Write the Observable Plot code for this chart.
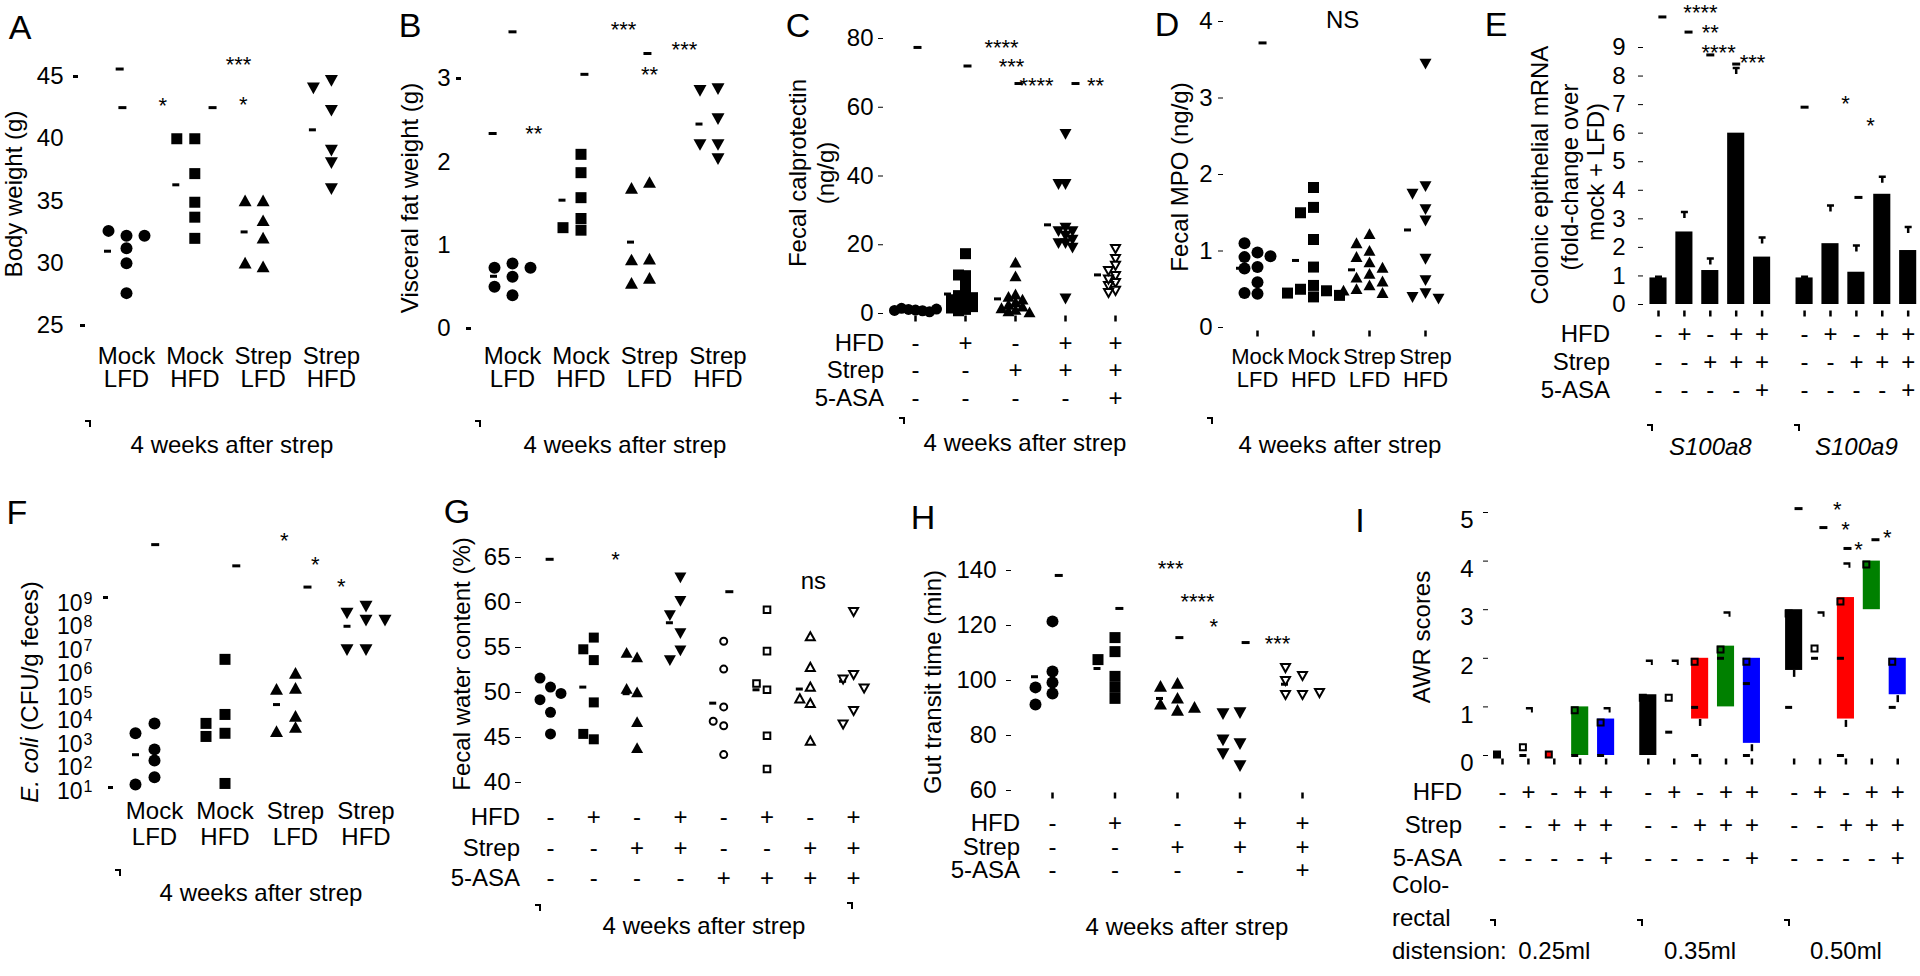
<!DOCTYPE html>
<html><head><meta charset="utf-8">
<script src="https://cdn.jsdelivr.net/npm/d3@7"></script>
<script src="https://cdn.jsdelivr.net/npm/@observablehq/plot@0.6"></script>
<style>
html,body{margin:0;padding:0;background:#fff;}
#fig{position:relative;width:1920px;height:976px;overflow:hidden;font-family:"Liberation Sans",Arial,Helvetica,sans-serif;color:#000;background:#fff;}
#fig svg{position:absolute;left:0;top:0;}
.lab{position:absolute;white-space:nowrap;line-height:1;}
.corner{position:absolute;width:4px;height:5px;border-top:2.5px solid #000;border-right:2.5px solid #000;}
</style></head><body><div id="fig"></div><script>
// ================= DATA =================
const dotCatTop = ["Mock", "Mock", "Strep", "Strep"];
const dotCatBottom = ["LFD", "HFD", "LFD", "HFD"];

// A – body weight (g)
const bodyWeight = [
  [32.2, 32.6, 32.2, 31.2, 30.0, 27.6],
  [40.0, 40.0, 37.2, 34.9, 33.7, 32.0],
  [35.0, 35.0, 33.4, 32.0, 29.7, 30.0],
  [44.7, 44.1, 42.3, 39.1, 38.1, 36.0]
];
const bodyTicks = [25, 30, 35, 40, 45];
const bodySigBars = [[-0.1, 45.6], [-0.06, 42.5], [1.26, 42.5]];
const bodySigStars = [[0.53, 43.1, "*"], [1.64, 46.4, "***"], [1.71, 43.2, "*"]];

// B – visceral fat weight (g)
const fatWeight = [
  [0.78, 0.73, 0.73, 0.62, 0.50, 0.40],
  [1.32, 1.18, 1.21, 1.57, 1.87, 2.09],
  [1.75, 1.68, 0.83, 0.82, 0.60, 0.54],
  [2.52, 2.88, 2.86, 2.21, 2.21, 2.04]
];
const fatTicks = [0, 1, 2, 3];
const fatSigBars = [[0, 3.56], [-0.29, 2.34], [1.05, 3.05], [1.97, 3.30]];
const fatSigStars = [[0.31, 2.41, "**"], [1.62, 3.66, "***"], [2.0, 3.11, "**"], [2.51, 3.42, "***"]];

// treatment rows (5 conditions)
const hfd5 = ["-", "+", "-", "+", "+"];
const strep5 = ["-", "-", "+", "+", "+"];
const asa5 = ["-", "-", "-", "-", "+"];
const rowNames3 = ["HFD", "Strep", "5-ASA"];

// C – fecal calprotectin (ng/g)
const calprotectin = [
  [1.0, 1.2, 0.8, 1.5, 0.5, 0.9, 1.3],
  [17.4, 11.0, 11.2, 8.1, 5.8, 5.2, 4.6, 3.6, 2.8, 2.0, 1.2, 0.8, 4.0, 1.6],
  [14.8, 10.8, 5.5, 4.8, 4.0, 3.2, 2.5, 2.0, 1.5, 1.0, 0.6, 0.3],
  [52.3, 37.7, 37.7, 25.0, 24.0, 24.0, 22.7, 20.5, 20.5, 19.2, 21.5, 4.4],
  [18.9, 16.0, 14.0, 11.0, 9.0, 6.7, 8.1, 6.1, 10.0, 12.5]
];
const calTicks = [0, 20, 40, 60, 80];
const calSigBars = [[0.04, 77.4], [1.04, 72.0], [2.06, 66.9], [3.2, 66.9]];
const calSigStars = [[1.72, 78.9, "****"], [1.92, 73.5, "***"], [2.42, 68.0, "****"], [3.6, 68.0, "**"]];

// D – fecal MPO (ng/g)
const mpo = [
  [0.98, 1.10, 0.92, 0.93, 0.79, 0.77, 0.59, 0.44, 0.45],
  [1.83, 1.57, 1.50, 1.15, 0.79, 0.55, 0.50, 0.48, 0.45, 0.42, 0.40],
  [1.22, 1.10, 1.00, 0.92, 0.85, 0.78, 0.70, 0.65, 0.60, 0.55, 0.50, 0.48, 0.45],
  [3.45, 1.85, 1.75, 1.55, 1.40, 0.90, 0.62, 0.45, 0.40, 0.38]
];
const mpoTicks = [0, 1, 2, 3, 4];
const mpoSigBars = [[0.09, 3.72]];
const mpoSigText = [[1.52, 4.01, "NS"]];

// E – colonic epithelial mRNA (fold change)
const s100Genes = ["S100a8", "S100a9"];
const s100Mean = [[0.93, 2.54, 1.19, 6.0, 1.66], [0.93, 2.13, 1.13, 3.86, 1.89]];
const s100Upper = [[0.97, 3.24, 1.61, 8.28, 2.35], [0.97, 3.47, 2.07, 4.47, 2.71]];
const s100Ticks = [0, 1, 2, 3, 4, 5, 6, 7, 8, 9];
const s100SigBars = [[0.15, 10.07], [1.16, 9.54], [2.0, 8.74], [3.0, 8.42], [5.64, 6.91], [7.72, 3.75]];
const s100SigStars = [[1.62, 10.42, "****"], [2.0, 9.72, "**"], [2.32, 9.02, "****"], [3.63, 8.67, "***"], [7.22, 7.23, "*"], [8.19, 6.46, "*"]];

// F – E. coli (CFU/g feces)
const ecoli = [
  [7.9e3, 3.0e3, 6.2e2, 2.1e2, 40, 20],
  [4.2e6, 1.9e4, 7.9e3, 3.0e3, 2.2e3, 22],
  [1.05e6, 2.4e5, 2.2e5, 1.55e4, 5.2e3, 3.5e3],
  [7.9e8, 4.0e8, 2.0e8, 2.0e8, 1.1e7, 1.1e7]
];
const ecoliTicks = [1e1, 1e2, 1e3, 1e4, 1e5, 1e6, 1e7, 1e8, 1e9];
const ecoliSigBars = [[0.01, 3.2e11], [1.16, 4.0e10], [2.17, 5.0e9]];
const ecoliSigStars = [[1.84, 7.9e11, "*"], [2.28, 7.9e10, "*"], [2.65, 9.5e9, "*"]];

// G – fecal water content (%)
const hfd8 = ["-", "+", "-", "+", "-", "+", "-", "+"];
const strep8 = ["-", "-", "+", "+", "-", "-", "+", "+"];
const asa8 = ["-", "-", "-", "-", "+", "+", "+", "+"];
const water = [
  [47.8, 45.4, 50.6, 49.2, 51.6, 49.9],
  [56.1, 54.8, 53.6, 48.9, 44.8, 45.4],
  [46.7, 43.8, 53.9, 50.0, 54.4, 50.4],
  [62.8, 60.2, 58.6, 56.6, 54.7, 53.6],
  [55.7, 52.6, 48.4, 46.3, 46.8, 43.1],
  [59.2, 54.6, 50.3, 51.0, 45.2, 41.5],
  [56.2, 52.8, 50.6, 48.8, 49.3, 44.6],
  [59.0, 52.0, 51.5, 50.5, 48.0, 46.5]
];
const waterTicks = [40, 45, 50, 55, 60, 65];
const waterSigBars = [[-0.02, 64.8], [4.13, 61.2]];
const waterSigStars = [[1.5, 65.4, "*"]];
const waterSigText = [[6.07, 62.4, "ns"]];

// H – gut transit time (min)
const transit = [
  [121.5, 103.3, 99.3, 97.5, 95.3, 91.3],
  [115.6, 110.5, 107.6, 101.5, 97.5, 93.5],
  [98.9, 97.8, 93.5, 91.3, 89.1, 90.2],
  [88.4, 88.0, 77.1, 78.5, 73.5, 69.1],
  [101.8, 94.9, 94.9, 104.7, 100.0, 95.6]
];
const transitTicks = [60, 80, 100, 120, 140];
const transitSigBars = [[0.1, 138.2], [1.07, 126.2], [2.03, 115.6], [3.09, 113.8]];
const transitSigStars = [[1.89, 142.9, "***"], [2.32, 130.9, "****"], [2.58, 121.8, "*"], [3.6, 115.3, "***"]];

// I – AWR scores by colorectal distension volume
const awrVolumes = ["0.25ml", "0.35ml", "0.50ml"];
const awrBarLow  = [[null, null, null, 0, 0], [0, null, 0.75, 1.0, 0.25], [1.75, null, 0.75, 3.0, 1.25]];
const awrBarHigh = [[null, null, null, 1.0, 0.75], [1.25, null, 2.0, 2.25, 2.0], [3.0, null, 3.25, 4.0, 2.0]];
const awrSquare  = [[0.02, 0.17, 0.02, 0.93, 0.68], [1.19, 1.19, 1.93, 2.18, 1.93], [2.92, 2.2, 3.17, 3.93, 1.93]];
const awrDash = [[[], [0], [], [0], [0]], [[], [0.48], [0.99, 0], [2.0], [1.48, 0]], [[0.99], [2.0], [2.0, 0], [], [0.99]]];
const awrCap = [[null, 0.97, null, null, 0.97], [1.95, 1.95, null, 2.94, null], [null, 2.94, 3.95, null, null]];
const awrLowTick = [[null, null, null, null, null], [null, null, 0.68, null, 0.16], [1.69, null, 0.66, null, 1.17]];
const awrTicks = [0, 1, 2, 3, 4, 5];
const awrSigBars = [[11.43, 5.08], [12.39, 4.69], [13.32, 4.26], [14.40, 4.44]];
const awrSigStars = [[12.93, 5.18, "*"], [13.24, 4.77, "*"], [13.75, 4.36, "*"], [14.86, 4.59, "*"]];

// ================= DRAWING =================
const W = 1920, H = 976;
const FONT = '"Liberation Sans", Arial, Helvetica, sans-serif';
const fig = document.getElementById("fig");
const intFmt = d => String(d);

const SYM = {
  circle: r => ({draw(c) { c.moveTo(r, 0); c.arc(0, 0, r, 0, 2 * Math.PI); c.closePath(); }}),
  square: h => ({draw(c) { c.rect(-h, -h, 2 * h, 2 * h); }}),
  triUp: h => ({draw(c) { c.moveTo(0, -h); c.lineTo(h, 0.8 * h); c.lineTo(-h, 0.8 * h); c.closePath(); }}),
  triDown: h => ({draw(c) { c.moveTo(0, h); c.lineTo(h, -0.8 * h); c.lineTo(-h, -0.8 * h); c.closePath(); }}),
  bar: (w, h) => ({draw(c) { c.rect(-w / 2, -h / 2, w, h); }}),
  cap: () => ({draw(c) { c.rect(-3.5, -1.25, 7, 2.5); c.rect(1.5, -1.25, 2, 5.5); }}),
  tee: () => ({draw(c) { c.rect(-3.5, -1.25, 7, 2.5); c.rect(-1.25, 0, 2.5, 6); }})
};
const filled = sym => ({sym, open: false});
const open = sym => ({sym, open: true});

function layer({fl, fr, ft, fb, c0, s, ydom, ylog = false, marks}) {
  const svg = Plot.plot({
    width: W, height: H,
    marginLeft: fl, marginRight: W - fr, marginTop: ft, marginBottom: H - fb,
    x: {domain: [(fl - c0) / s, (fr - c0) / s], axis: null, label: null},
    y: {type: ylog ? "log" : "linear", domain: ydom, axis: null, label: null},
    style: {background: "transparent", overflow: "visible", fontFamily: FONT, fontSize: "24px", color: "#000"},
    marks
  });
  fig.appendChild(svg);
}

function swarm(vals, ySc, center, colUnits, minDist) {
  const placed = [];
  return vals.map(v => {
    const py = ySc(v);
    let col = 0;
    for (let k = 0; k < 60; k++) {
      col = k === 0 ? 0 : (k % 2 ? -(k + 1) / 2 : k / 2);
      if (!placed.some(p => p.col === col && Math.abs(p.py - py) < minDist)) break;
    }
    placed.push({col, py});
    return {x: center + col * colUnits, v};
  });
}

function dotMarks(P, groups, shapes, colPx, minDist, meanDx, geo = false) {
  const ySc = (P.ylog ? d3.scaleLog() : d3.scaleLinear()).domain(P.ydom).range([P.fb, P.ft]);
  const means = groups.map((vals, i) => ({x: i, y: geo ? Math.pow(10, d3.mean(vals, v => Math.log10(v))) : d3.mean(vals)}));
  const marks = [Plot.dot(means, {x: "x", y: "y", symbol: SYM.bar(7, 3), fill: "black", stroke: "none", dx: meanDx})];
  groups.forEach((vals, i) => {
    const pts = swarm(vals, ySc, i, colPx / P.s, minDist);
    const sh = shapes[i];
    marks.push(Plot.dot(pts, {x: "x", y: "v", symbol: sh.sym,
      fill: sh.open ? "white" : "black", stroke: sh.open ? "black" : "none", strokeWidth: sh.open ? 2 : 0}));
  });
  return marks;
}

function rowMarks(rows, positions, dys, fontSize = 24, extra = {}) {
  return rows.map((row, r) => Plot.text(row.map((t, i) => ({t, x: positions[i]})),
    {x: "x", text: "t", frameAnchor: "bottom", dy: dys[r], lineAnchor: "middle", fontSize, ...extra}));
}

function sigMarks(bars, stars, texts = []) {
  return [
    Plot.dot(bars, {x: d => d[0], y: d => d[1], symbol: SYM.bar(8, 3), fill: "black", stroke: "none"}),
    Plot.text(stars, {x: d => d[0], y: d => d[1], text: d => d[2], fontSize: 22, lineAnchor: "middle", dy: 6}),
    Plot.text(texts, {x: d => d[0], y: d => d[1], text: d => d[2], fontSize: 24, lineAnchor: "middle"})
  ];
}

function vticks(positions, yv, dy) {
  return Plot.dot(positions, {x: d => d, y: yv, symbol: SYM.bar(2.5, 6), fill: "black", stroke: "none", dy});
}

function label(html, x, y, {size = 24, align = "center", rotate = 0} = {}) {
  const d = document.createElement("div");
  d.className = "lab";
  d.innerHTML = html;
  const tx = align === "center" ? "-50%" : align === "right" ? "-100%" : "0";
  d.style.left = x + "px"; d.style.top = y + "px"; d.style.fontSize = size + "px";
  d.style.transform = `translate(${tx},-50%)` + (rotate ? ` rotate(${rotate}deg)` : "");
  fig.appendChild(d);
}
function corner(x, y) {
  const d = document.createElement("div");
  d.className = "corner"; d.style.left = (x - 3) + "px"; d.style.top = (y - 3) + "px";
  fig.appendChild(d);
}

const idx4 = [0, 1, 2, 3], idx5 = [0, 1, 2, 3, 4], idx8 = [0, 1, 2, 3, 4, 5, 6, 7];
const stdShapes = [filled(SYM.circle(6)), filled(SYM.square(5.5)), filled(SYM.triUp(6.5)), filled(SYM.triDown(6.5))];

// ---- Panel A ----
{
  const P = {fl: 80, fr: 370, ft: 76, fb: 325, c0: 126, s: 68.3, ydom: [25, 45]};
  const x0 = (P.fl - P.c0) / P.s;
  layer({...P, marks: [
    Plot.axisY({ticks: bodyTicks, tickSize: 0, tickPadding: 17, fontSize: 24, label: null, tickFormat: intFmt}),
    Plot.dot([45], {x: x0, y: d => d, symbol: SYM.bar(5, 3), fill: "black", dx: -5}),
    Plot.dot([25], {x: x0, y: d => d, symbol: SYM.bar(5, 3), fill: "black", dx: 2}),
    ...dotMarks(P, bodyWeight, stdShapes, 18, 11, -19),
    ...sigMarks(bodySigBars, bodySigStars),
    ...rowMarks([dotCatTop, dotCatBottom], idx4, [31, 54])
  ]});
}
// ---- Panel B ----
{
  const P = {fl: 470, fr: 760, ft: 78, fb: 328, c0: 512, s: 68.5, ydom: [0, 3]};
  const x0 = (P.fl - P.c0) / P.s;
  layer({...P, marks: [
    Plot.axisY({ticks: fatTicks, tickSize: 0, tickPadding: 20, fontSize: 24, label: null, tickFormat: intFmt}),
    Plot.dot([3], {x: x0, y: d => d, symbol: SYM.bar(5, 3), fill: "black", dx: -12}),
    Plot.dot([0], {x: x0, y: d => d, symbol: SYM.bar(5, 3), fill: "black", dx: -2}),
    ...dotMarks(P, fatWeight, stdShapes, 18, 11, -19),
    ...sigMarks(fatSigBars, fatSigStars),
    ...rowMarks([dotCatTop, dotCatBottom], idx4, [28, 51])
  ]});
}
// ---- Panel C ----
{
  const P = {fl: 883, fr: 1145, ft: 38, fb: 313, c0: 915, s: 50, ydom: [0, 80]};
  const shapes = [filled(SYM.circle(5.5)), filled(SYM.square(5.5)), filled(SYM.triUp(6)), filled(SYM.triDown(6)), open(SYM.triDown(4.5))];
  layer({...P, marks: [
    Plot.axisY({ticks: calTicks, tickSize: 5, tickPadding: 5, fontSize: 24, label: null, tickFormat: intFmt}),
    vticks(idx5, 0, 5),
    ...dotMarks(P, calprotectin, shapes, 7, 6, -18),
    ...sigMarks(calSigBars, calSigStars),
    ...rowMarks([hfd5, strep5, asa5], idx5, [30, 57, 85])
  ]});
}
// ---- Panel D ----
{
  const P = {fl: 1223, fr: 1460, ft: 21, fb: 327, c0: 1257, s: 56, ydom: [0, 4]};
  const shapes = [filled(SYM.circle(6)), filled(SYM.square(5.5)), filled(SYM.triUp(6)), filled(SYM.triDown(6))];
  layer({...P, marks: [
    Plot.axisY({ticks: mpoTicks, tickSize: 5, tickPadding: 6, fontSize: 24, label: null, tickFormat: intFmt}),
    vticks(idx4, 0, 6),
    ...dotMarks(P, mpo, shapes, 13, 11, -18),
    ...sigMarks(mpoSigBars, [], mpoSigText),
    ...rowMarks([dotCatTop, dotCatBottom], idx4, [29, 52], 22)
  ]});
}
// ---- Panel E ----
{
  const P = {fl: 1643, fr: 1920, ft: 47, fb: 304, c0: 1658, s: 25.9, ydom: [0, 9]};
  const pos = (g, j) => g * 5.64 + j;
  const bars = s100Mean.flatMap((arr, g) => arr.map((v, j) => ({x: pos(g, j), v, cap: s100Upper[g][j]})));
  const positions = bars.map(d => d.x);
  layer({...P, marks: [
    Plot.axisY({ticks: s100Ticks, tickSize: 5, tickPadding: 13, fontSize: 24, label: null, tickFormat: intFmt}),
    Plot.dot(bars, {x: "x", y: "cap", symbol: SYM.tee(), fill: "black", stroke: "none"}),
    Plot.rect(bars, {x1: d => d.x - 0.33, x2: d => d.x + 0.33, y1: 0, y2: "v", fill: "black"}),
    vticks(positions, 0, 9),
    ...sigMarks(s100SigBars, s100SigStars),
    ...rowMarks([hfd5.concat(hfd5), strep5.concat(strep5), asa5.concat(asa5)], positions, [30, 58, 86]),
    Plot.text(s100Genes.map((t, g) => ({t, x: pos(g, 2)})), {x: "x", text: "t", frameAnchor: "bottom", dy: 143, lineAnchor: "middle", fontSize: 24, fontStyle: "italic"})
  ]});
}
// ---- Panel F ----
{
  const P = {fl: 112, fr: 420, ft: 603, fb: 791, c0: 154, s: 70.5, ydom: [1e1, 1e9], ylog: true};
  const x0 = (P.fl - P.c0) / P.s;
  layer({...P, marks: [
    Plot.text(ecoliTicks, {x: x0, y: d => d, text: () => "10", textAnchor: "end", dx: -30, fontSize: 23, lineAnchor: "middle"}),
    Plot.text(ecoliTicks, {x: x0, y: d => d, text: d => String(Math.round(Math.log10(d))), textAnchor: "start", dx: -29, dy: -5, fontSize: 16, lineAnchor: "middle"}),
    Plot.dot([1e9], {x: x0, y: d => d, symbol: SYM.bar(5, 3), fill: "black", dx: -7, dy: -6}),
    Plot.dot([1e1], {x: x0, y: d => d, symbol: SYM.bar(5, 3), fill: "black", dx: -2, dy: -4}),
    ...dotMarks(P, ecoli, stdShapes, 19, 11, -19, true),
    ...sigMarks(ecoliSigBars, ecoliSigStars),
    ...rowMarks([dotCatTop, dotCatBottom], idx4, [20, 46])
  ]});
}
// ---- Panel G ----
{
  const P = {fl: 521, fr: 900, ft: 557, fb: 782, c0: 550, s: 43.3, ydom: [40, 65]};
  const shapes = [filled(SYM.circle(5.5)), filled(SYM.square(5)), filled(SYM.triUp(6)), filled(SYM.triDown(6)),
    open(SYM.circle(3.5)), open(SYM.square(3.3)), open(SYM.triUp(4.5)), open(SYM.triDown(4.5))];
  layer({...P, marks: [
    Plot.axisY({ticks: waterTicks, tickSize: 6, tickPadding: 5, fontSize: 24, label: null, tickFormat: intFmt}),
    ...dotMarks(P, water, shapes, 10.5, 15, -11),
    ...sigMarks(waterSigBars, waterSigStars, waterSigText),
    ...rowMarks([hfd8, strep8, asa8], idx8, [35, 66, 96])
  ]});
}
// ---- Panel H ----
{
  const P = {fl: 1011, fr: 1345, ft: 570, fb: 790, c0: 1052, s: 62.5, ydom: [60, 140]};
  const shapes = [filled(SYM.circle(6)), filled(SYM.square(5.5)), filled(SYM.triUp(6.5)), filled(SYM.triDown(6.5)), open(SYM.triDown(4.5))];
  layer({...P, marks: [
    Plot.axisY({ticks: transitTicks, tickSize: 5, tickPadding: 10, fontSize: 24, label: null, tickFormat: intFmt}),
    vticks(idx5, 60, 5),
    ...dotMarks(P, transit, shapes, 17, 11, -18),
    ...sigMarks(transitSigBars, transitSigStars),
    ...rowMarks([hfd5, strep5, asa5], idx5, [33, 57, 80])
  ]});
}
// ---- Panel I ----
{
  const P = {fl: 1488, fr: 1920, ft: 512, fb: 755, c0: 1502, s: 25.9, ydom: [0, 5]};
  const pos = (g, j) => g * 5.63 + j;
  const condFill = ["#000000", "white", "#ff0000", "#008000", "#0000ff"];
  const positions = [], marks = [
    Plot.axisY({ticks: awrTicks, tickSize: 0, tickPadding: 15, fontSize: 24, label: null, dy: 8, tickFormat: intFmt}),
    Plot.axisY({ticks: awrTicks, tickSize: 5, tickFormat: () => "", label: null})
  ];
  const sq = [], dashes = [], caps = [], lows = [];
  awrVolumes.forEach((vol, g) => {
    for (let j = 0; j < 5; j++) {
      const x = pos(g, j);
      positions.push(x);
      if (awrBarLow[g][j] != null) {
        marks.push(Plot.rect([{x, lo: awrBarLow[g][j], hi: awrBarHigh[g][j]}],
          {x1: d => d.x - 0.33, x2: d => d.x + 0.33, y1: "lo", y2: "hi", fill: condFill[j]}));
      }
      sq.push({x, y: awrSquare[g][j], f: condFill[j]});
      awrDash[g][j].forEach(y => dashes.push({x, y}));
      if (awrCap[g][j] != null) caps.push({x, y: awrCap[g][j]});
      if (awrLowTick[g][j] != null) lows.push({x, y: awrLowTick[g][j]});
    }
  });
  marks.push(
    Plot.dot(lows, {x: "x", y: "y", symbol: SYM.bar(2.5, 7), fill: "black", stroke: "none"}),
    Plot.dot(caps, {x: "x", y: "y", symbol: SYM.cap(), fill: "black", stroke: "none", dx: 1}),
    Plot.dot(dashes, {x: "x", y: "y", symbol: SYM.bar(7, 3), fill: "black", stroke: "none", dx: -5.5}),
    ...condFill.map(f => Plot.dot(sq.filter(d => d.f === f), {x: "x", y: "y", symbol: SYM.square(3), fill: f, stroke: "black", strokeWidth: 2, dx: -5.5})),
    vticks(positions, 0, 6),
    ...sigMarks(awrSigBars, awrSigStars)
  );
  const hfd = [], strep = [], asa = [];
  awrVolumes.forEach(() => { hfd.push(...hfd5); strep.push(...strep5); asa.push(...asa5); });
  marks.push(...rowMarks([hfd, strep, asa], positions, [37, 70, 103]));
  marks.push(Plot.text(awrVolumes.map((t, g) => ({t, x: pos(g, 2)})), {x: "x", text: "t", frameAnchor: "bottom", dy: 196, lineAnchor: "middle", fontSize: 24}));
  layer({...P, marks});
}

// ---------------- HTML labels ----------------
const letterSize = 34;
[["A", 20, 27], ["B", 410, 25], ["C", 798, 25], ["D", 1167, 24], ["E", 1496, 24],
 ["F", 17, 512], ["G", 457, 511], ["H", 923, 517], ["I", 1360, 520]].forEach(([t, x, y]) => label(t, x, y, {size: letterSize}));

label("Body weight (g)", 14, 194, {rotate: -90});
label("Visceral fat weight (g)", 410, 198, {rotate: -90});
label("Fecal calprotectin", 798, 173, {rotate: -90});
label("(ng/g)", 826, 173, {rotate: -90});
label("Fecal MPO (ng/g)", 1180, 177, {rotate: -90});
label("Colonic epithelial mRNA", 1540, 175, {rotate: -90});
label("(fold-change over", 1570, 177, {rotate: -90});
label("mock + LFD)", 1596, 172, {rotate: -90});
label("<i>E. coli</i> (CFU/g feces)", 30, 692, {rotate: -90});
label("Fecal water content (%)", 462, 664, {rotate: -90});
label("Gut transit time (min)", 933, 682, {rotate: -90});
label("AWR scores", 1422, 637, {rotate: -90});

const weeks = "4 weeks after strep";
[[232, 445], [625, 445], [1025, 443], [1340, 445], [261, 893], [704, 926], [1187, 927]].forEach(([x, y]) => label(weeks, x, y));

rowNames3.forEach((t, r) => {
  label(t, 884, [343, 370, 398][r], {align: "right"});
  label(t, 1610, [334, 362, 390][r], {align: "right"});
  label(t, 520, [817, 848, 878][r], {align: "right"});
  label(t, 1020, [823, 847, 870][r], {align: "right"});
  label(t, 1462, [792, 825, 858][r], {align: "right"});
});
label("Colo-", 1392, 885, {align: "left"});
label("rectal", 1392, 918, {align: "left"});
label("distension:", 1392, 951, {align: "left"});

[[88, 423], [478, 423], [902, 420], [1210, 420], [1650, 427], [1797, 427], [118, 872], [538, 907], [850, 905],
 [1493, 922], [1640, 922], [1787, 922]].forEach(([x, y]) => corner(x, y));
</script></body></html>
